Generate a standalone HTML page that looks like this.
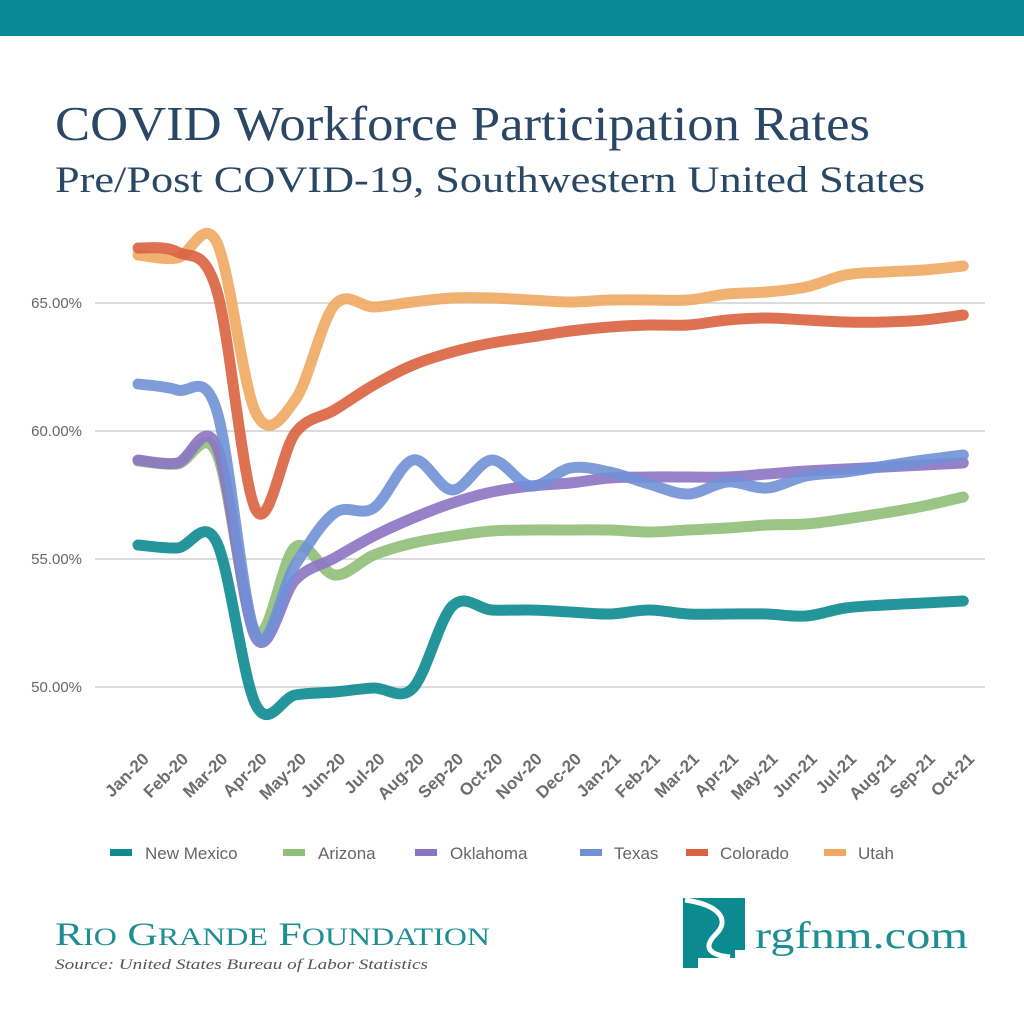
<!DOCTYPE html>
<html><head><meta charset="utf-8"><style>
body{margin:0;background:#fff}
svg{display:block}
</style></head><body>
<svg id="s" width="1024" height="1024" xmlns="http://www.w3.org/2000/svg">
<rect width="1024" height="1024" fill="#fff"/>
<rect width="1024" height="36" fill="#088993"/>
<text x="55" y="140" font-family="Liberation Serif,serif" font-size="49" fill="#2a4866" textLength="815" lengthAdjust="spacingAndGlyphs">COVID Workforce Participation Rates</text>
<text x="55" y="192" font-family="Liberation Serif,serif" font-size="37" fill="#2a4866" textLength="870" lengthAdjust="spacingAndGlyphs">Pre/Post COVID-19, Southwestern United States</text>
<g stroke="#cfcfcf" stroke-width="1.5">
<line x1="95" y1="303" x2="985" y2="303"/><line x1="95" y1="431" x2="985" y2="431"/>
<line x1="95" y1="559" x2="985" y2="559"/><line x1="95" y1="687" x2="985" y2="687"/>
</g>
<g font-family="Liberation Sans,sans-serif" font-size="15" fill="#666" text-anchor="end">
<text x="82" y="308">65.00%</text><text x="82" y="436">60.00%</text>
<text x="82" y="564">55.00%</text><text x="82" y="692">50.00%</text>
</g>
<g id="series" fill="none" stroke-width="11" stroke-linecap="round" stroke-linejoin="round"></g>
<g id="xl" font-family="Liberation Sans,sans-serif" font-size="17" font-weight="bold" fill="#6d6d6d" text-anchor="end"></g>
<g font-family="Liberation Sans,sans-serif" font-size="17" fill="#666">
<rect x="110" y="849" width="22" height="7" fill="#0b8a90"/><text x="145" y="859">New Mexico</text>
<rect x="283" y="849" width="22" height="7" fill="#8fbf78"/><text x="318" y="859">Arizona</text>
<rect x="415" y="849" width="22" height="7" fill="#8c74c4"/><text x="450" y="859">Oklahoma</text>
<rect x="580" y="849" width="22" height="7" fill="#7090d6"/><text x="614" y="859">Texas</text>
<rect x="686" y="849" width="22" height="7" fill="#d9623f"/><text x="720" y="859">Colorado</text>
<rect x="824" y="849" width="22" height="7" fill="#f0a860"/><text x="858" y="859">Utah</text>
</g>
<text x="55" y="945" font-family="Liberation Serif,serif" font-size="33" fill="#1d8f93" textLength="435" lengthAdjust="spacingAndGlyphs">R<tspan font-size="25">IO</tspan> G<tspan font-size="25">RANDE</tspan> F<tspan font-size="25">OUNDATION</tspan></text>
<text x="55" y="969" font-family="Liberation Serif,serif" font-style="italic" font-size="15" fill="#555" textLength="373" lengthAdjust="spacingAndGlyphs">Source: United States Bureau of Labor Statistics</text>
<path d="M683,898 L745,898 L745,950 L735,950 L735,958 L698,958 L698,968 L683,968 Z" fill="#0b8a90"/>
<path d="M685,900 C720,905 730,920 716,934 C702,948 710,955 730,957" stroke="#fff" stroke-width="5" fill="none"/>
<text x="755" y="948" font-family="Liberation Serif,serif" font-size="38" fill="#1d8f93" textLength="213" lengthAdjust="spacingAndGlyphs">rgfnm.com</text>
</svg>
<script>
var X=i=>138+i*39.3;
var data=[
["#f0a860",[255,258,242,413,400,305,307,302,298,298,300,302,300,300,300,294,292,287,275,272,270,266]],
["#d9623f",[248,252,290,510,433,410,385,365,352,343,337,331,327,325,325,320,318,320,322,322,320,315]],
["#8fbf78",[461,464,453,632,547,575,555,543,536,531,530,530,530,532,530,528,525,524,519,513,506,497]],
["#8c74c4",[460,463,446,638,580,558,536,518,503,492,486,483,478,477,477,477,474,471,469,467,465,463]],
["#7090d6",[384,390,410,635,565,513,508,460,490,460,486,468,472,484,494,482,488,476,472,466,460,455]],
["#0b8a90",[545,548,542,705,695,692,688,688,606,610,610,612,614,610,614,614,614,616,608,605,603,601]]];
var g=document.getElementById('series'),ns="http://www.w3.org/2000/svg";
data.forEach(function(d){var y=d[1],p="M"+X(0)+","+y[0];
for(var i=0;i<y.length-1;i++){var x0=X(Math.max(i-1,0)),y0=y[Math.max(i-1,0)],x1=X(i),y1=y[i],x2=X(i+1),y2=y[i+1],x3=X(Math.min(i+2,y.length-1)),y3=y[Math.min(i+2,y.length-1)];
p+=" C"+(x1+(x2-x0)/6)+","+(y1+(y2-y0)/6)+" "+(x2-(x3-x1)/6)+","+(y2-(y3-y1)/6)+" "+x2+","+y2;}
var e=document.createElementNS(ns,"path");e.setAttribute("d",p);e.setAttribute("stroke",d[0]);e.setAttribute("stroke-opacity","0.9");g.appendChild(e);});
var L=["Jan-20","Feb-20","Mar-20","Apr-20","May-20","Jun-20","Jul-20","Aug-20","Sep-20","Oct-20","Nov-20","Dec-20","Jan-21","Feb-21","Mar-21","Apr-21","May-21","Jun-21","Jul-21","Aug-21","Sep-21","Oct-21"];
var xl=document.getElementById('xl');
L.forEach(function(t,i){var e=document.createElementNS(ns,"text");var x=X(i)+12,y=760;e.setAttribute("x",x);e.setAttribute("y",y);e.setAttribute("transform","rotate(-45 "+x+" "+y+")");e.textContent=t;xl.appendChild(e);});
</script>
</body></html>
